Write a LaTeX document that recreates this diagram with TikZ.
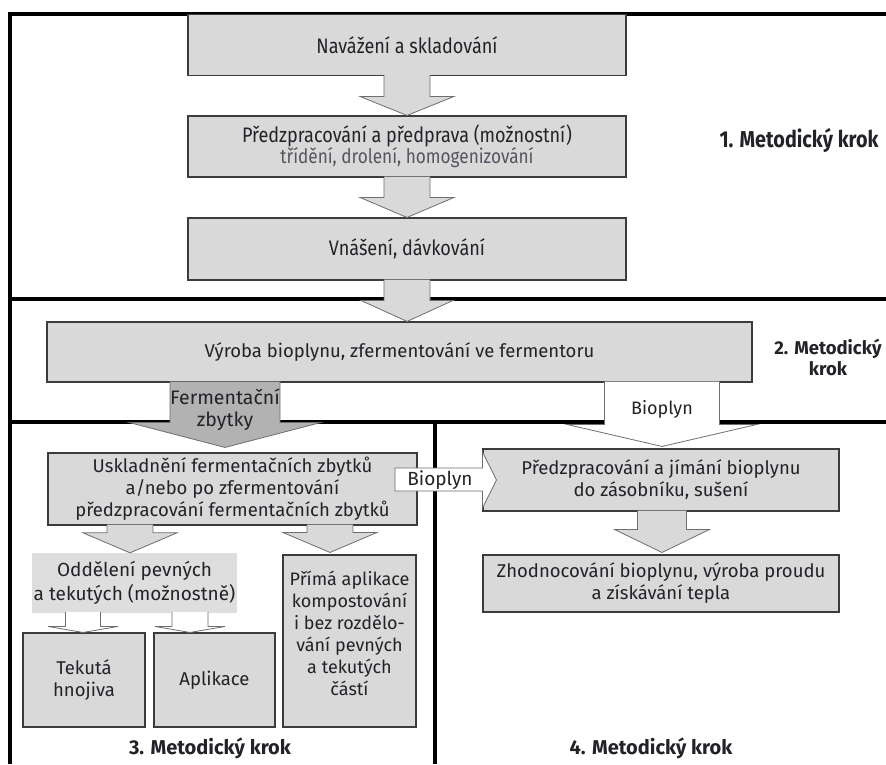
\documentclass[tikz,border=0pt]{standalone}
\usepackage{fontspec}
\setmainfont{Fira Sans}
\newfontfamily\condfont[FakeStretch=0.86]{Fira Sans}
\usetikzlibrary{calc}
\definecolor{boxgray}{RGB}{217,217,217}
\definecolor{darkarrow}{RGB}{178,178,178}
\definecolor{lightbox}{RGB}{222,222,222}
\definecolor{txt}{RGB}{34,34,40}
\definecolor{subtxt}{RGB}{85,85,95}
\definecolor{edge}{RGB}{60,60,60}
\definecolor{arrowedge}{RGB}{110,110,110}
% block arrow: style, from node, to node, cx, stem half, head half, head height, tip gap
\newcommand\blockdown[8]{%
  \path[#1] let \p1=(#2.south), \p2=(#3.north) in
    ({(#4-#5)*1pt},{\y1+1pt}) -- ({(#4-#5)*1pt},{\y2+(#7+#8)*1pt})
    -- ({(#4-#6)*1pt},{\y2+(#7+#8)*1pt}) -- ({#4*1pt},{\y2+#8*1pt})
    -- ({(#4+#6)*1pt},{\y2+(#7+#8)*1pt}) -- ({(#4+#5)*1pt},{\y2+(#7+#8)*1pt})
    -- ({(#4+#5)*1pt},{\y1+1pt});}
\begin{document}
\begin{tikzpicture}[x=1pt,y=-1pt,
  box/.style={draw=edge, line width=1.1pt, fill=boxgray, inner sep=0pt, align=center,
    text=txt, font=\fontsize{18.5}{22}\selectfont},
  topbox/.style={box, font=\condfont\fontsize{21}{23}\selectfont},
  plainbox/.style={fill=lightbox, inner sep=0pt, align=center, text=txt,
    font=\fontsize{19}{24}\selectfont},
  grayarrow/.style={fill=boxgray, draw=arrowedge, line width=0.8pt, line join=miter},
  ferarrow/.style={fill=darkarrow, draw=arrowedge, line width=0.8pt},
  whitearrow/.style={fill=white, draw=arrowedge, line width=0.8pt},
  thinarrow/.style={fill=white, draw=arrowedge, line width=0.8pt},
  divider/.style={line width=3.6pt, black},
  steplabel/.style={text=txt, font=\bfseries\fontsize{20}{21}\selectfont, align=center},
  arrowtext/.style={text=txt, font=\fontsize{19}{22}\selectfont, align=center, inner sep=0pt}
]
\useasboundingbox (0,0) rectangle (886,764);
\fill[white] (0,0) rectangle (886,764);

% frame and dividers
\draw[divider, line width=4pt, line join=miter] (10,764) -- (10,14) -- (886,14);
\draw[divider] (10,299) -- (886,299);
\draw[divider] (10,422) -- (886,422);
\draw[divider] (435,422) -- (435,764);

% step 1
\node[topbox, minimum width=438pt, minimum height=61pt] (b1) at (407,45) {Navážení a skladování};
\node[topbox, minimum width=438pt, minimum height=61pt] (b2) at (407,146.5)
  {Předzpracování a předprava (možnostní)\\[-2pt]{\color{subtxt}\fontsize{20}{22}\selectfont třídění, drolení, homogenizování}};
\node[topbox, minimum width=438pt, minimum height=62pt] (b3) at (407,249) {Vnášení, dávkování};

% step 2
\node[box, minimum width=705pt, minimum height=60pt] (vyr) at (399.5,352)
  {Výroba bioplynu, zfermentování ve fermentoru};

% step 3
\node[box, minimum width=369pt, minimum height=72pt] (usk) at (232.5,489)
  {Uskladnění fermentačních zbytků\\a/nebo po zfermentování\\předzpracování fermentačních zbytků};
\node[plainbox, minimum width=205pt, minimum height=60pt] (odd) at (134.5,583)
  {Oddělení pevných\\a tekutých (možnostně)};
\node[box, minimum width=122pt, minimum height=94pt] (tek) at (84,680) {Tekutá\\hnojiva};
\node[box, minimum width=121pt, minimum height=94pt] (apl) at (214.5,680) {Aplikace};
\node[box, minimum width=133pt, minimum height=172pt] (pri) at (349.5,641) {};
\node[text=txt, font=\fontsize{18}{22}\selectfont, align=center] (pritext) at (349.5,633)
  {Přímá aplikace\\kompostování\\i bez rozdělo-\\vání pevných\\a tekutých\\částí};

% step 4
\node[box, minimum width=356pt, minimum height=62pt] (jim) at (661,480)
  {Předzpracování a jímání bioplynu\\do zásobníku, sušení};
\node[box, minimum width=356pt, minimum height=57pt] (zho) at (661,583.5)
  {Zhodnocování bioplynu, výroba proudu\\a získávání tepla};

% block arrows
\blockdown{grayarrow}{b1}{b2}{407}{23}{47}{19}{0}
\blockdown{grayarrow}{b2}{b3}{407}{23}{47}{20}{0}
\blockdown{grayarrow}{b3}{vyr}{407}{23}{46}{21}{0}
\blockdown{ferarrow}{vyr}{usk}{225}{55}{96}{25}{5}
\blockdown{whitearrow}{vyr}{jim}{662}{57.5}{95}{22}{2}
\blockdown{grayarrow}{jim}{zho}{662}{24.5}{47.5}{23}{2}
\blockdown{grayarrow}{usk}{odd}{130}{23}{47}{20}{0}
\blockdown{grayarrow}{usk}{pri}{330}{23}{47}{20}{2}
\blockdown{thinarrow}{odd}{tek}{83}{17.5}{35}{6}{0}
\blockdown{thinarrow}{odd}{apl}{190}{18}{35}{6}{0}

% horizontal Bioplyn arrow from usk into jim
\path[whitearrow] let \p1=(jim.west) in
  (395,468) -- (\x1,468) -- (\x1,452) -- ({\x1+14pt},480) -- (\x1,508) -- (\x1,491) -- (395,491) -- cycle;

% arrow texts
\node[arrowtext, font=\fontsize{19.5}{22}\selectfont] (fertext) at (225,410) {Fermentační\\zbytky};
\node[arrowtext, font=\fontsize{18}{22}\selectfont] (biotext) at (662,409) {Bioplyn};
\node[arrowtext] (biotext2) at (440,480) {Bioplyn};

% step labels
\node[steplabel, font=\condfont\bfseries\fontsize{23}{23}\selectfont] (s1) at (799,140) {1. Metodický krok};
\node[steplabel, font=\bfseries\fontsize{18.5}{21}\selectfont] (s2) at (828,357) {2. Metodický\\krok};
\node[steplabel] (s3) at (210,748) {3. Metodický krok};
\node[steplabel] (s4) at (651,748) {4. Metodický krok};
\end{tikzpicture}
\end{document}
